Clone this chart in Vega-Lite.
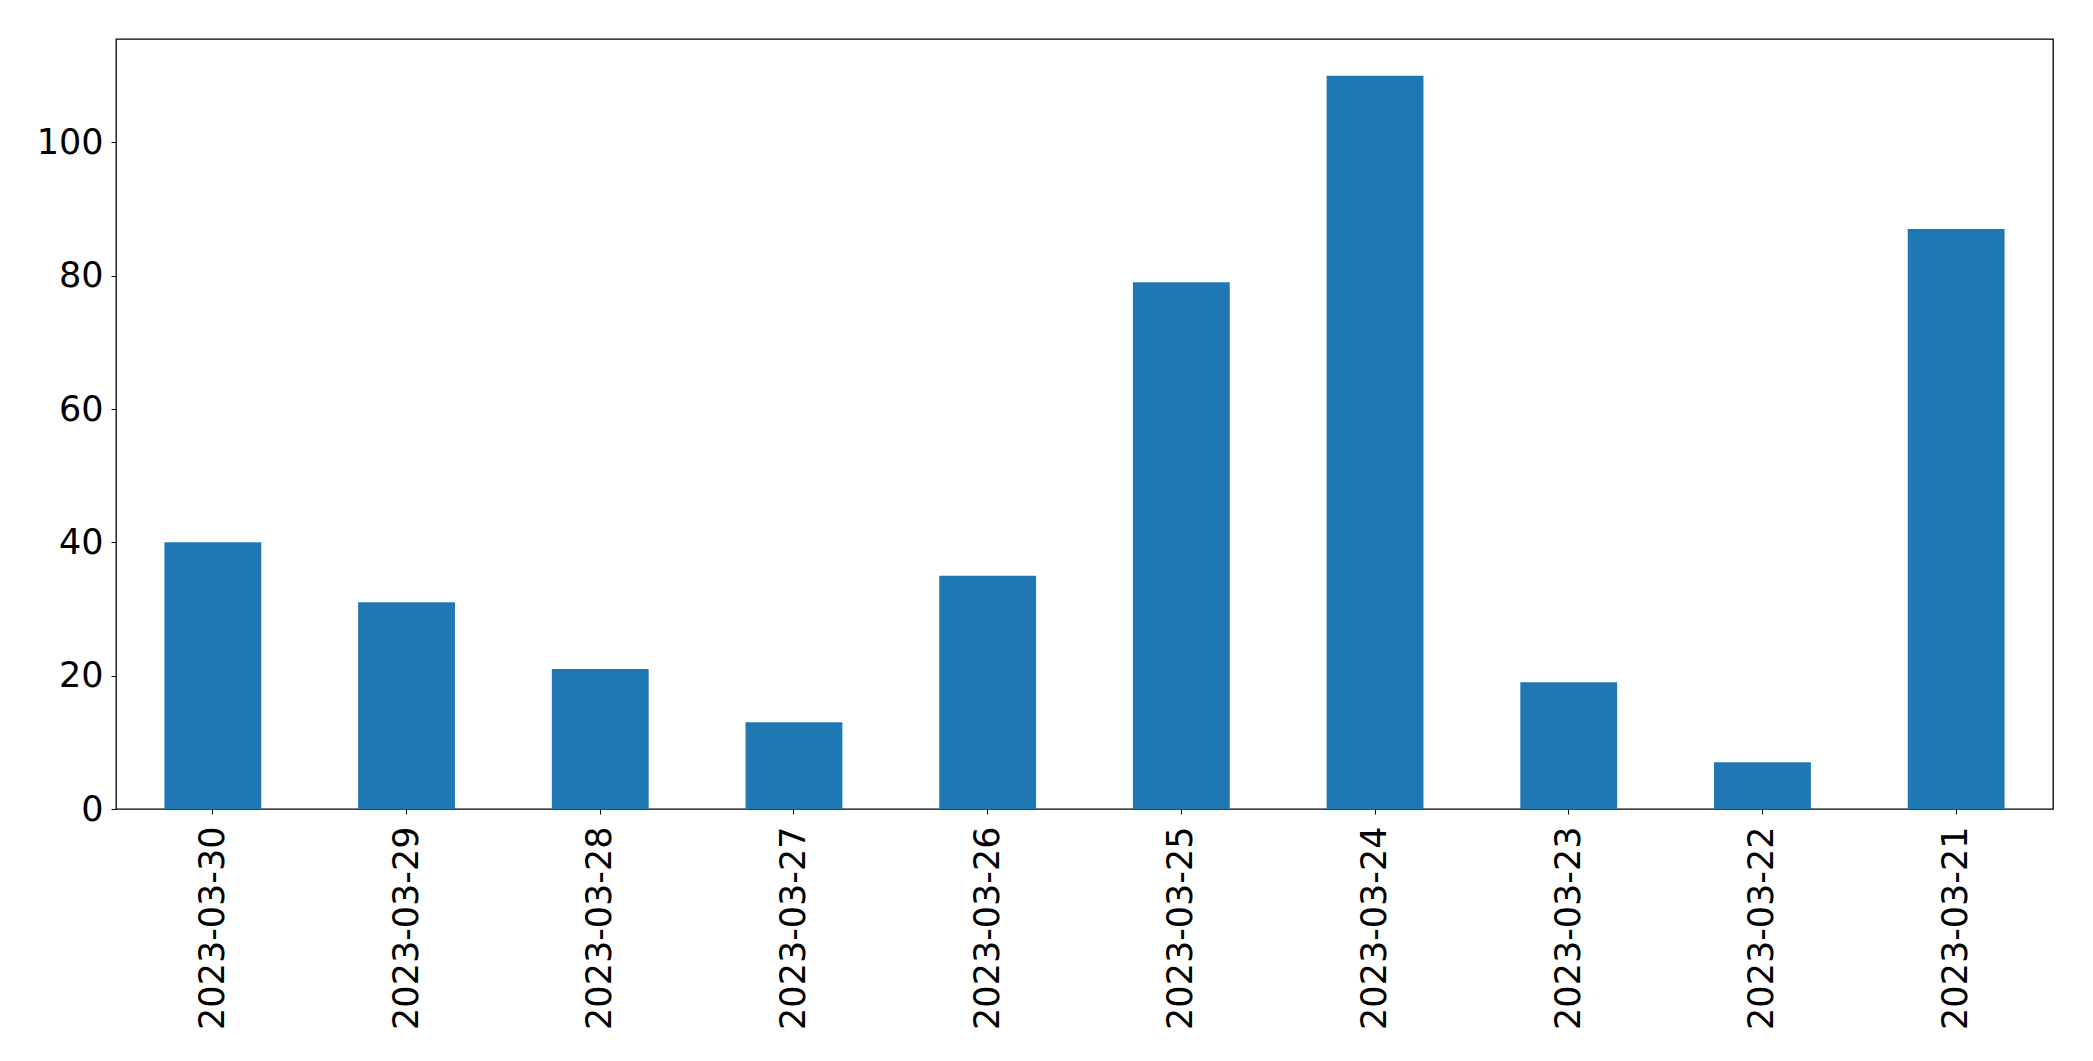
{
  "$schema": "https://vega.github.io/schema/vega-lite/v6.json",
  "width": 1937,
  "height": 770,
  "autosize": {"type": "none"},
  "padding": {"left": 116, "top": 39, "right": 40, "bottom": 252},
  "background": "white",
  "data": {
    "values": [
      {"date": "2023-03-30", "count": 40},
      {"date": "2023-03-29", "count": 31},
      {"date": "2023-03-28", "count": 21},
      {"date": "2023-03-27", "count": 13},
      {"date": "2023-03-26", "count": 35},
      {"date": "2023-03-25", "count": 79},
      {"date": "2023-03-24", "count": 110},
      {"date": "2023-03-23", "count": 19},
      {"date": "2023-03-22", "count": 7},
      {"date": "2023-03-21", "count": 87}
    ]
  },
  "config": {
    "view": {"stroke": "black", "strokeWidth": 1.3},
    "font": "DejaVu Sans",
    "axis": {
      "labelFont": "DejaVu Sans",
      "labelFontSize": 35,
      "labelColor": "black",
      "labelLimit": 0,
      "tickColor": "black",
      "domainColor": "black",
      "tickSize": 5,
      "grid": false,
      "title": null
    }
  },
  "mark": {"type": "bar", "color": "#1f77b4"},
  "encoding": {
    "x": {
      "field": "date",
      "type": "nominal",
      "sort": null,
      "scale": {"paddingInner": 0.5, "paddingOuter": 0.25},
      "axis": {"labelAngle": 270, "labelPadding": 12, "domain": false, "labelBaseline": "middle", "labelAlign": "right"}
    },
    "y": {
      "field": "count",
      "type": "quantitative",
      "scale": {"domain": [0, 115.5], "nice": false, "zero": true},
      "axis": {"values": [0, 20, 40, 60, 80, 100], "labelPadding": 8, "domain": false}
    }
  }
}
